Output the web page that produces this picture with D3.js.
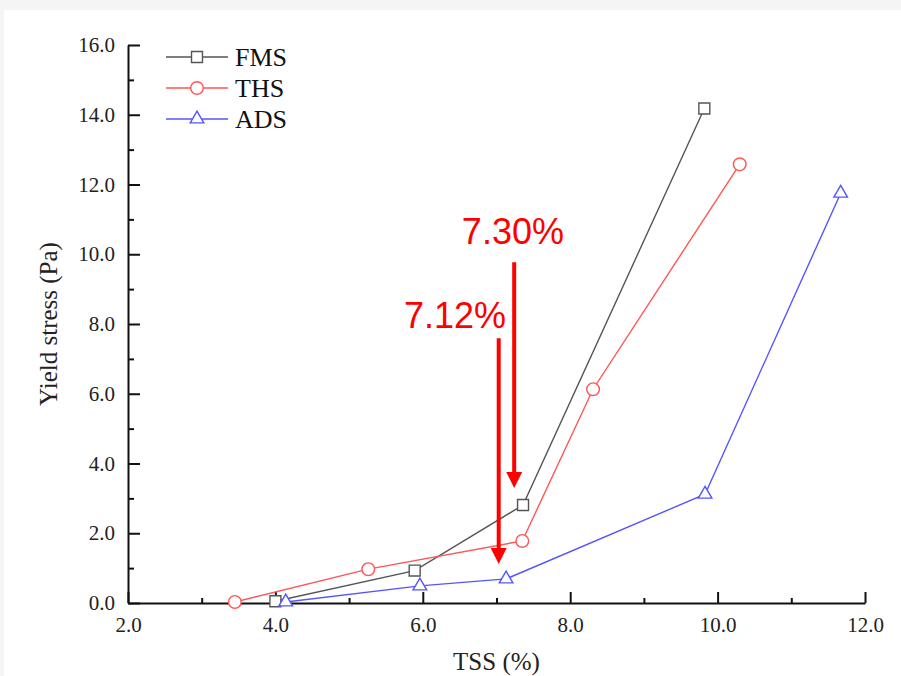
<!DOCTYPE html>
<html>
<head>
<meta charset="utf-8">
<script src="https://cdn.jsdelivr.net/npm/d3@7"></script>
<style>
  body { margin: 0; background: #f5f5f5; }
  svg { display: block; }
  .axis text { font-family: "Liberation Serif", "Times New Roman", serif; font-size: 21px; fill: #222; }
  .axis path, .axis line { stroke: #111; stroke-width: 2; }
</style>
</head>
<body>
<svg id="chart" width="901" height="676"></svg>
<script>
// data
const fmsX = [4.0, 5.89, 7.36, 9.82];
const fmsY = [0.05, 0.93, 2.81, 14.18];
const thsX = [3.45, 5.26, 7.35, 8.31, 10.30];
const thsY = [0.03, 0.97, 1.78, 6.13, 12.58];
const adsX = [4.14, 5.96, 7.13, 9.83, 11.67];
const adsY = [0.03, 0.49, 0.69, 3.12, 11.75];

const xMajor = [2, 4, 6, 8, 10, 12];
const xMinor = [3, 5, 7, 9, 11];
const yMajor = [0, 2, 4, 6, 8, 10, 12, 14, 16];
const yMinor = [1, 3, 5, 7, 9, 11, 13, 15];

// arrows: x, top, tip (data units); label with its left/baseline position
const noteLabels = ['7.30%', '7.12%'];
const noteX = [7.24, 7.03];
const noteTop = [9.77, 7.59];
const noteTip = [3.3, 1.12];
const noteLabelX = [6.53, 5.745];
const noteLabelY = [10.29, 7.88];

const series = [
  { name: 'FMS', xs: fmsX, ys: fmsY, color: '#555555', symbol: d3.symbolSquare, size: 120 },
  { name: 'THS', xs: thsX, ys: thsY, color: '#ff5555', symbol: d3.symbolCircle, size: 125 },
  { name: 'ADS', xs: adsX, ys: adsY, color: '#5555ff', symbol: d3.symbolTriangle, size: 80 }
];

const svg = d3.select('#chart');
svg.append('rect')
  .attr('x', 4).attr('y', 10)
  .attr('width', 897).attr('height', 666)
  .attr('fill', '#ffffff');

const margin = { top: 45, right: 36, bottom: 73, left: 128 };
const width = +svg.attr('width');
const height = +svg.attr('height');

const x = d3.scaleLinear()
  .domain([2, 12])
  .range([margin.left, width - margin.right]);

const y = d3.scaleLinear()
  .domain([0, 16])
  .range([height - margin.bottom, margin.top]);

const fmt = d3.format('.1f');

// minor ticks first
svg.append('g')
  .attr('class', 'axis')
  .attr('transform', `translate(0, ${y(0)})`)
  .call(d3.axisBottom(x).tickValues(xMinor).tickFormat('').tickSizeInner(-5).tickSizeOuter(0))
  .select('.domain').remove();

svg.append('g')
  .attr('class', 'axis')
  .attr('transform', `translate(${x(2)}, 0)`)
  .call(d3.axisLeft(y).tickValues(yMinor).tickFormat('').tickSizeInner(-6).tickSizeOuter(0))
  .select('.domain').remove();

svg.append('g')
  .attr('class', 'axis')
  .attr('transform', `translate(0, ${y(0)})`)
  .call(d3.axisBottom(x).tickValues(xMajor).tickFormat(fmt).tickSizeInner(-11).tickSizeOuter(0).tickPadding(14));

svg.append('g')
  .attr('class', 'axis')
  .attr('transform', `translate(${x(2)}, 0)`)
  .call(d3.axisLeft(y).tickValues(yMajor).tickFormat(fmt).tickSizeInner(-12).tickSizeOuter(0).tickPadding(13));

// axis titles
svg.append('text')
  .attr('x', (x(2) + x(12)) / 2)
  .attr('y', 670)
  .attr('text-anchor', 'middle')
  .style('font-family', '"Liberation Serif", "Times New Roman", serif')
  .style('font-size', '25px')
  .attr('fill', '#222')
  .text('TSS (%)');

svg.append('text')
  .attr('transform', `translate(57, ${y(8)}) rotate(-90)`)
  .attr('text-anchor', 'middle')
  .style('font-family', '"Liberation Serif", "Times New Roman", serif')
  .style('font-size', '25px')
  .attr('fill', '#222')
  .text('Yield stress (Pa)');

// series
const line = d3.line().x(d => x(d[0])).y(d => y(d[1]));

series.forEach(s => {
  const pts = s.xs.map((v, i) => [v, s.ys[i]]);
  svg.append('path')
    .datum(pts)
    .attr('d', line)
    .attr('fill', 'none')
    .attr('stroke', s.color)
    .attr('stroke-width', 1.4);

  svg.selectAll(null)
    .data(pts)
    .enter().append('path')
    .attr('d', d3.symbol().type(s.symbol).size(s.size))
    .attr('transform', d => `translate(${x(d[0])}, ${y(d[1])})`)
    .attr('fill', '#fff')
    .attr('stroke', s.color)
    .attr('stroke-width', 1.4);
});

// annotations
const red = '#ff0000';
noteLabels.forEach((lab, i) => {
  const ax = x(noteX[i]);
  const tipY = y(noteTip[i]);
  svg.append('line')
    .attr('x1', ax).attr('x2', ax)
    .attr('y1', y(noteTop[i])).attr('y2', tipY - 12)
    .attr('stroke', red)
    .attr('stroke-width', 4);
  svg.append('path')
    .attr('d', `M${ax - 8},${tipY - 16} L${ax + 8},${tipY - 16} L${ax},${tipY} Z`)
    .attr('fill', red);
  svg.append('text')
    .attr('x', x(noteLabelX[i]))
    .attr('y', y(noteLabelY[i]))
    .style('font-family', '"Liberation Sans", Arial, sans-serif')
    .style('font-size', '36px')
    .attr('fill', red)
    .text(lab);
});

// legend
const legend = svg.append('g').attr('transform', 'translate(166, 57)');
series.forEach((s, i) => {
  const g = legend.append('g').attr('transform', `translate(0, ${i * 31})`);
  g.append('line')
    .attr('x1', 0).attr('x2', 62)
    .attr('stroke', s.color)
    .attr('stroke-width', 1.4);
  g.append('path')
    .attr('d', d3.symbol().type(s.symbol).size(s.size))
    .attr('transform', 'translate(31, 0)')
    .attr('fill', '#fff')
    .attr('stroke', s.color)
    .attr('stroke-width', 1.4);
  g.append('text')
    .attr('x', 69)
    .attr('y', 9)
    .style('font-family', '"Liberation Serif", "Times New Roman", serif')
    .style('font-size', '26px')
    .attr('fill', '#111')
    .text(s.name);
});
</script>
</body>
</html>
